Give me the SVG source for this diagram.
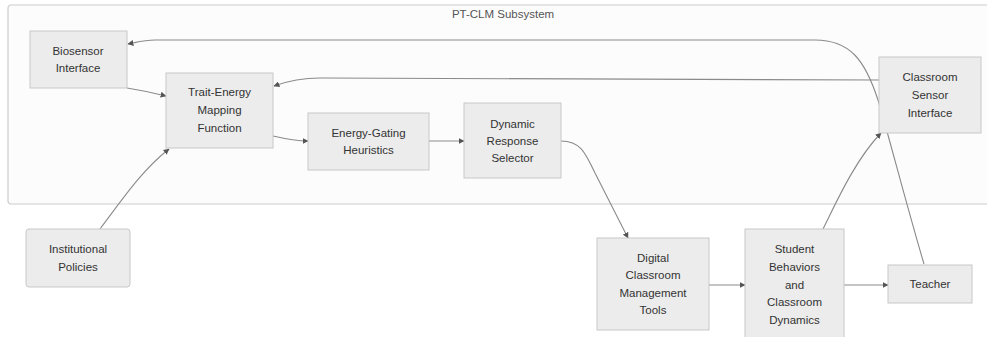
<svg xmlns="http://www.w3.org/2000/svg" width="987" height="337" viewBox="0 0 987 337">
<style>
.cl{fill:#fcfcfc;stroke:#cccccc;stroke-width:1.2}
.nd{fill:#ececec;stroke:#c8c8c8;stroke-width:1}
.t{font-family:"Liberation Sans",Arial,sans-serif;font-size:11.5px;fill:#333;text-anchor:middle}
.ct{font-family:"Liberation Sans",Arial,sans-serif;font-size:11.5px;fill:#555;text-anchor:middle}
.e{fill:none;stroke:#8a8a8a;stroke-width:1.1}
</style>
<defs>
<marker id="ah" viewBox="0 0 10 10" refX="9" refY="5" markerWidth="6" markerHeight="6" orient="auto" markerUnits="userSpaceOnUse">
<path d="M0,0 L10,5 L0,10 z" fill="#555"/>
</marker>
</defs>
<rect width="987" height="337" fill="#ffffff"/>
<g id="cluster">
<rect class="cl" x="8" y="5" width="990" height="199" rx="3"/>
<text class="ct" x="503" y="18">PT-CLM Subsystem</text>
</g>
<g id="connectors">
<path class="e" marker-end="url(#ah)" d="M127,88 Q146,91 166,96"/>
<path class="e" marker-end="url(#ah)" d="M100,229 C122,200 142,170 169,149"/>
<path class="e" marker-end="url(#ah)" d="M273,136 C286,139 295,141 308,141"/>
<path class="e" marker-end="url(#ah)" d="M429,141 L464,141"/>
<path class="e" marker-end="url(#ah)" d="M561,141 C580,141 585,152 595,173 L628,238"/>
<path class="e" marker-end="url(#ah)" d="M709,285 L745,285"/>
<path class="e" marker-end="url(#ah)" d="M844,285 L888,285"/>
<path class="e" marker-end="url(#ah)" d="M823,229 C836,203 855,160 881,133"/>
<path class="e" marker-end="url(#ah)" d="M879,80 L320,78 Q296,78 274,86"/>
<path class="e" marker-end="url(#ah)" d="M924,264 C905,200 890,140 878,100 C865,60 850,40 815,40 L155,40 C145,40 138,42 128,44"/>
</g>
<g id="biosensor">
<rect class="nd" x="30" y="31" width="97" height="57"/>
<text class="t" x="78" y="55">Biosensor</text>
<text class="t" x="78" y="72">Interface</text>
</g>
<g id="trait">
<rect class="nd" x="166" y="73" width="107" height="75"/>
<text class="t" x="219.5" y="96">Trait-Energy</text>
<text class="t" x="219.5" y="114">Mapping</text>
<text class="t" x="219.5" y="132">Function</text>
</g>
<g id="gating">
<rect class="nd" x="308" y="113" width="121" height="57"/>
<text class="t" x="368.5" y="137">Energy-Gating</text>
<text class="t" x="368.5" y="154">Heuristics</text>
</g>
<g id="dynamic">
<rect class="nd" x="464" y="103" width="97" height="75"/>
<text class="t" x="512.5" y="128">Dynamic</text>
<text class="t" x="512.5" y="145">Response</text>
<text class="t" x="512.5" y="162">Selector</text>
</g>
<g id="sensor">
<rect class="nd" x="879" y="57" width="102" height="76"/>
<text class="t" x="930" y="81">Classroom</text>
<text class="t" x="930" y="99">Sensor</text>
<text class="t" x="930" y="117">Interface</text>
</g>
<g id="policies">
<rect class="nd" x="26" y="229" width="104" height="58" rx="3"/>
<text class="t" x="78" y="253">Institutional</text>
<text class="t" x="78" y="271">Policies</text>
</g>
<g id="digital">
<rect class="nd" x="597" y="238" width="112" height="92"/>
<text class="t" x="653" y="262">Digital</text>
<text class="t" x="653" y="279">Classroom</text>
<text class="t" x="653" y="297">Management</text>
<text class="t" x="653" y="314">Tools</text>
</g>
<g id="student">
<rect class="nd" x="745" y="229" width="99" height="115"/>
<text class="t" x="794.5" y="253">Student</text>
<text class="t" x="794.5" y="271">Behaviors</text>
<text class="t" x="794.5" y="289">and</text>
<text class="t" x="794.5" y="306">Classroom</text>
<text class="t" x="794.5" y="324">Dynamics</text>
</g>
<g id="teacher">
<rect class="nd" x="888" y="265" width="84" height="38"/>
<text class="t" x="930" y="288">Teacher</text>
</g>
</svg>
